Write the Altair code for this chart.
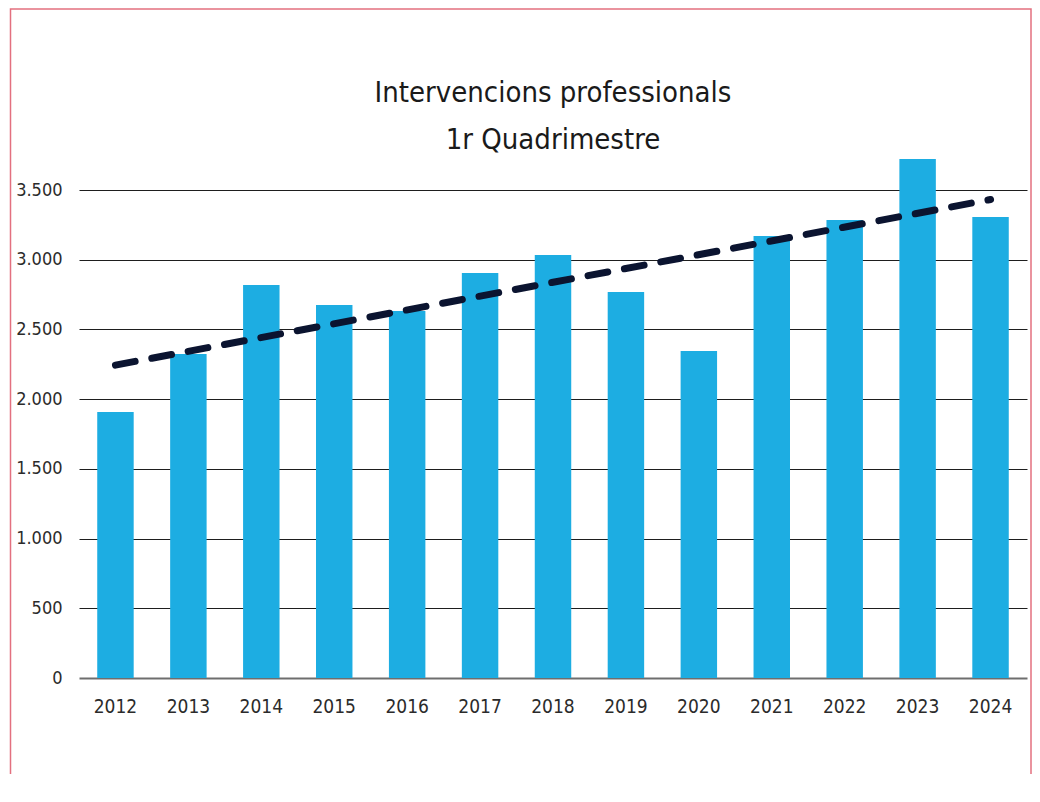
import altair as alt
import pandas as pd

years = [2012, 2013, 2014, 2015, 2016, 2017, 2018, 2019, 2020, 2021, 2022, 2023, 2024]
values = [1908, 2324, 2819, 2675, 2632, 2905, 3034, 2768, 2345, 3170, 3285, 3722, 3306]
y_ticks = [0, 500, 1000, 1500, 2000, 2500, 3000, 3500]
title_lines = ["Intervencions professionals", "1r Quadrimestre"]

df = pd.DataFrame({"year": years, "value": values})
frame_df = pd.DataFrame({"k": [0]})

FONT = "DejaVu Sans Condensed, Roboto Condensed, Liberation Sans Narrow, Roboto, sans-serif"
TEXT = "#2b2b2b"

x_enc = alt.X(
    "year:O",
    title=None,
    scale=alt.Scale(paddingInner=0.5, paddingOuter=0.25),
    axis=alt.Axis(labelAngle=0, labelFont=FONT, labelFontSize=19, labelColor=TEXT,
                  labelPadding=19, ticks=False, domain=False, grid=False),
)
y_enc = alt.Y(
    "value:Q",
    title=None,
    scale=alt.Scale(domain=[0, 3500], nice=False),
    axis=alt.Axis(values=y_ticks,
                  labelExpr="replace(format(datum.value, ','), ',', '.')",
                  labelFont=FONT, labelFontSize=18, labelColor=TEXT, labelPadding=17,
                  ticks=False, domain=False, grid=True,
                  gridColor=alt.condition("datum.value === 0", alt.value("#6e6e6e"), alt.value("#1e1e1e")),
                  gridWidth=alt.condition("datum.value === 0", alt.value(2), alt.value(1.2))),
)

border = alt.Chart(frame_df).mark_rect(filled=False, stroke="#E3707F", strokeWidth=1.5).encode(
    x=alt.value(-68.5), x2=alt.value(952), y=alt.value(-181), y2=alt.value(700)
)

bars = alt.Chart(df).mark_bar(color="#1DADE2").encode(x=x_enc, y=y_enc)

trend = alt.Chart(df).transform_regression("year", "value", method="linear").mark_line(
    color="#0B1430", strokeWidth=7, strokeDash=[20, 17], strokeCap="round"
).encode(x="year:O", y="value:Q")

chart = alt.layer(border, bars, trend).properties(
    width=948,
    height=488,
    autosize=alt.AutoSizeParams(type="none"),
    padding={"left": 71, "top": 182, "right": 5, "bottom": 96},
    title=alt.TitleParams(text=title_lines, font=FONT, fontSize=29, fontWeight="normal",
                          color="#1a1a1a", anchor="middle", frame="group", offset=-147,
                          lineHeight=47),
).configure_view(stroke=None)

chart.save("out.html", embed_options={"renderer": "svg", "actions": False})
